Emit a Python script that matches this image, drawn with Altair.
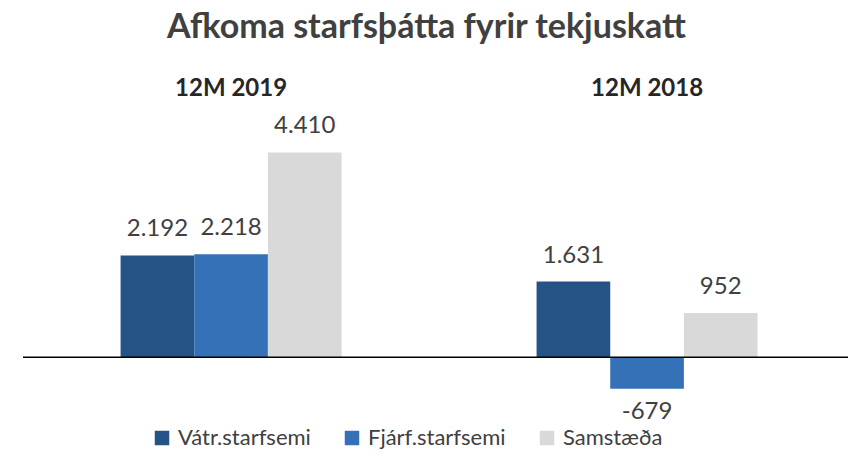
import altair as alt
import pandas as pd

groups = ["12M 2019", "12M 2019", "12M 2019", "12M 2018", "12M 2018", "12M 2018"]
series_names = ["Vátr.starfsemi", "Fjárf.starfsemi", "Samstæða"]
series = series_names * 2
values = [2192, 2218, 4410, 1631, -679, 952]
labels = ["2.192", "2.218", "4.410", "1.631", "-679", "952"]
group_order = ["12M 2019", "12M 2018"]
colors = ["#255385", "#3571B6", "#D9D9D9"]

df = pd.DataFrame({"group": groups, "series": series, "value": values, "label": labels})

FONT = "Lato"
YDOM = [-1500, 5000]

x = alt.X("group:N", sort=group_order, title=None,
          scale=alt.Scale(paddingInner=0.46875, paddingOuter=0.226, align=0.519),
          axis=alt.Axis(orient="top", domain=False, ticks=False, labelAngle=0,
                        labelFontSize=24, labelFontWeight="bold", labelColor="#262626",
                        labelFont=FONT, labelPadding=25))
xo = alt.XOffset("series:N", sort=series_names,
                 scale=alt.Scale(paddingInner=0, paddingOuter=0))
y = alt.Y("value:Q", scale=alt.Scale(domain=YDOM, nice=False, zero=True), axis=None)

base = alt.Chart(df)

bars = base.mark_bar().encode(
    x=x, xOffset=xo, y=y,
    color=alt.Color("series:N", sort=series_names,
                    scale=alt.Scale(domain=series_names, range=colors),
                    legend=alt.Legend(title=None, orient="none", direction="horizontal",
                                      legendX=128, legendY=302,
                                      symbolType="square", symbolSize=210,
                                      symbolStrokeWidth=0, labelFontSize=22,
                                      labelFont=FONT, labelColor="#404040",
                                      columnPadding=30, labelOffset=5)),
)

pos_text = base.transform_filter("datum.value >= 0").mark_text(
    baseline="alphabetic", dy=-19, fontSize=24, font=FONT, color="#404040"
).encode(x=x, xOffset=xo, y=y, text="label:N")

neg_text = base.transform_filter("datum.value < 0").mark_text(
    baseline="alphabetic", dy=30, fontSize=24, font=FONT, color="#404040"
).encode(x=x, xOffset=xo, y=y, text="label:N")

zero = alt.Chart(pd.DataFrame({"z": [0]})).mark_rule(color="#000000", strokeWidth=1.6).encode(
    y=alt.Y("z:Q", scale=alt.Scale(domain=YDOM, nice=False), axis=None)
)

chart = alt.layer(bars, zero, pos_text, neg_text).properties(
    width=825, height=302,
    autosize=alt.AutoSizeParams(type="none"),
    padding={"left": 15, "top": 117, "right": 0, "bottom": 23},
    title=alt.Title("Afkoma starfsþátta fyrir tekjuskatt", fontSize=34, font=FONT,
                    fontWeight="bold", color="#404040", offset=31, dx=-9),
).configure(background="white").configure_view(stroke=None)

chart.save("out.html", embed_options={"renderer": "svg", "actions": False})
